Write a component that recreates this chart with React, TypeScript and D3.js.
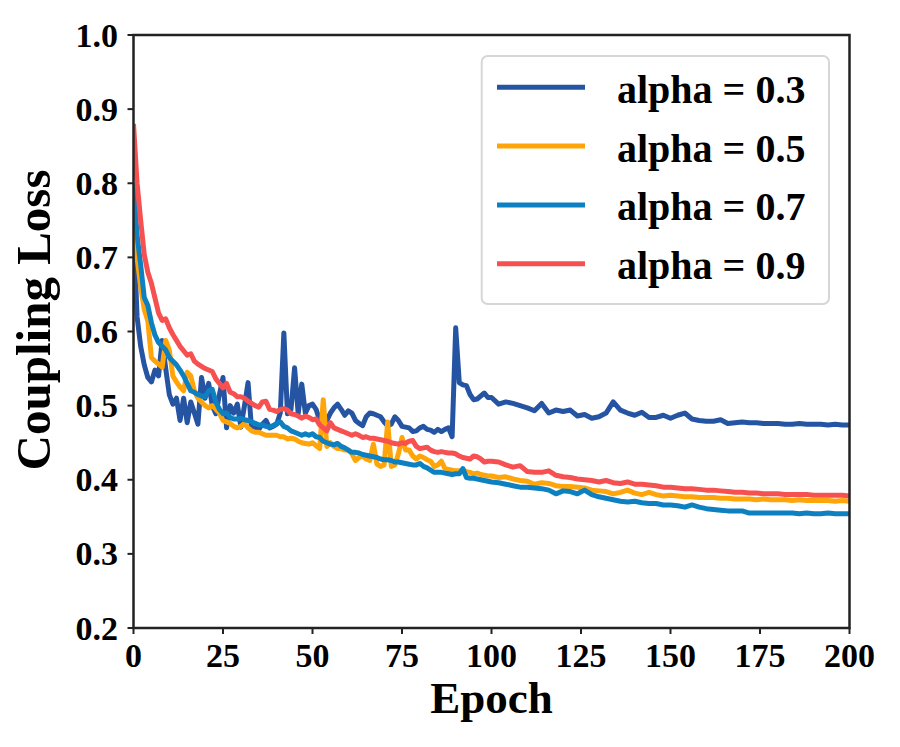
import React from 'react';
import * as d3 from 'd3';

// epochs: every epoch up to 99, then every second epoch
const epochs: number[] = d3.range(0, 100).concat(d3.range(100, 201, 2));

const alpha03: number[] = [
  0.74, 0.62, 0.58, 0.555, 0.538, 0.532, 0.548, 0.54, 0.588, 0.55,
  0.515, 0.502, 0.51, 0.48, 0.51, 0.477, 0.505, 0.49, 0.475, 0.538,
  0.51, 0.53, 0.5, 0.489, 0.515, 0.538, 0.47, 0.5, 0.49, 0.502,
  0.471, 0.5, 0.531, 0.467, 0.47, 0.468, 0.475, 0.48, 0.47, 0.472,
  0.475, 0.49, 0.598, 0.489, 0.495, 0.551, 0.489, 0.529, 0.49, 0.5,
  0.502, 0.495, 0.48, 0.478, 0.48, 0.49, 0.497, 0.502, 0.495, 0.487,
  0.493, 0.49, 0.48, 0.476, 0.473, 0.485, 0.49, 0.489, 0.487, 0.485,
  0.478, 0.473, 0.475, 0.485, 0.48, 0.472, 0.471, 0.47, 0.465, 0.466,
  0.47, 0.472, 0.468, 0.467, 0.464, 0.468, 0.465, 0.468, 0.47, 0.458,
  0.605, 0.531, 0.528, 0.527, 0.515, 0.508, 0.509, 0.513, 0.517, 0.511,
  0.511, 0.502, 0.505, 0.503, 0.5, 0.497, 0.493, 0.503, 0.49, 0.494,
  0.492, 0.494, 0.486, 0.488, 0.483, 0.485, 0.49, 0.505, 0.494, 0.49,
  0.487, 0.491, 0.484, 0.484, 0.487, 0.483, 0.487, 0.49, 0.482, 0.48,
  0.479, 0.479, 0.481, 0.476, 0.477, 0.478, 0.477, 0.477, 0.476, 0.476,
  0.476, 0.475, 0.475, 0.476, 0.475, 0.475, 0.475, 0.474, 0.475, 0.474,
  0.474,
];

const alpha05: number[] = [
  0.77, 0.7, 0.66, 0.63, 0.614, 0.565, 0.56, 0.556, 0.552, 0.588,
  0.575, 0.54, 0.532, 0.525, 0.52, 0.545, 0.54, 0.52, 0.51, 0.505,
  0.5, 0.497, 0.5, 0.495, 0.49, 0.48, 0.478, 0.476, 0.472, 0.47,
  0.472, 0.476, 0.47, 0.466, 0.464, 0.464, 0.462, 0.46, 0.46, 0.46,
  0.46, 0.458, 0.458, 0.455, 0.456, 0.455, 0.452, 0.45, 0.449, 0.448,
  0.45, 0.446, 0.442, 0.508, 0.445, 0.45, 0.445, 0.442, 0.442, 0.44,
  0.44, 0.435, 0.426, 0.43, 0.432, 0.428, 0.426, 0.448, 0.421, 0.418,
  0.42, 0.478, 0.418, 0.42, 0.435, 0.457, 0.44, 0.44, 0.432, 0.428,
  0.432, 0.43, 0.427, 0.425, 0.418, 0.42, 0.425, 0.415, 0.414, 0.413,
  0.412, 0.412, 0.413, 0.411, 0.41, 0.408, 0.409, 0.407, 0.406, 0.405,
  0.405, 0.403, 0.404, 0.401, 0.399, 0.398, 0.394, 0.396, 0.395, 0.392,
  0.391, 0.391, 0.39, 0.389, 0.386, 0.385, 0.384, 0.381, 0.383, 0.386,
  0.382, 0.38, 0.383, 0.38, 0.378, 0.379, 0.378, 0.377, 0.377, 0.376,
  0.376, 0.376, 0.375, 0.375, 0.374, 0.374, 0.374, 0.373, 0.374, 0.373,
  0.373, 0.373, 0.372, 0.373, 0.372, 0.372, 0.372, 0.372, 0.371, 0.372,
  0.371,
];

const alpha07: number[] = [
  0.8, 0.73, 0.69, 0.646, 0.635, 0.612, 0.595, 0.585, 0.58, 0.575,
  0.565, 0.56, 0.555, 0.548, 0.54, 0.53, 0.52, 0.518, 0.515, 0.513,
  0.512, 0.52, 0.522, 0.505, 0.495, 0.489, 0.49, 0.484, 0.482, 0.482,
  0.483, 0.481, 0.48, 0.478, 0.476, 0.474, 0.474, 0.472, 0.471, 0.473,
  0.476, 0.478, 0.472, 0.47, 0.466, 0.464, 0.462, 0.46, 0.462, 0.46,
  0.462, 0.458, 0.457, 0.452, 0.45, 0.448, 0.447, 0.449, 0.445, 0.443,
  0.44, 0.437, 0.437, 0.436, 0.434, 0.433, 0.432, 0.431, 0.43, 0.428,
  0.427, 0.427, 0.426, 0.424, 0.424, 0.423, 0.422, 0.421, 0.42, 0.42,
  0.422, 0.418, 0.416, 0.413, 0.41, 0.41, 0.41, 0.409, 0.408, 0.407,
  0.408, 0.408, 0.415, 0.403, 0.402, 0.402, 0.401, 0.4, 0.399, 0.398,
  0.397, 0.396, 0.394, 0.392, 0.39, 0.39, 0.389, 0.388, 0.386, 0.381,
  0.385, 0.384, 0.381, 0.386, 0.38, 0.377, 0.375, 0.373, 0.371, 0.37,
  0.371, 0.369, 0.368, 0.368, 0.366, 0.366, 0.365, 0.363, 0.366, 0.363,
  0.361, 0.36, 0.359, 0.358, 0.358, 0.358, 0.355, 0.355, 0.355, 0.355,
  0.355, 0.355, 0.355, 0.354, 0.355, 0.354, 0.354, 0.355, 0.354, 0.354,
  0.354,
];

const alpha09: number[] = [
  0.88, 0.8, 0.75, 0.704, 0.68, 0.665, 0.645, 0.625, 0.615, 0.617,
  0.605, 0.596, 0.588, 0.58, 0.574, 0.568, 0.57, 0.56, 0.556, 0.553,
  0.55, 0.548, 0.546, 0.536, 0.53, 0.524, 0.53, 0.518, 0.516, 0.512,
  0.512, 0.51, 0.506, 0.503, 0.5, 0.498, 0.505, 0.506, 0.495, 0.494,
  0.492, 0.495, 0.496, 0.494, 0.489, 0.488, 0.486, 0.483, 0.486, 0.484,
  0.481, 0.482, 0.474, 0.47, 0.466, 0.477, 0.47, 0.468, 0.466, 0.464,
  0.462, 0.46, 0.462, 0.46, 0.457, 0.458, 0.456, 0.456, 0.455, 0.454,
  0.453, 0.452, 0.45, 0.449, 0.448, 0.45, 0.449, 0.452, 0.453, 0.445,
  0.442, 0.443, 0.444, 0.44, 0.438, 0.437, 0.438, 0.437, 0.436, 0.436,
  0.435, 0.432, 0.43, 0.429, 0.428, 0.432, 0.431, 0.428, 0.424, 0.425,
  0.425, 0.424, 0.42, 0.417, 0.419, 0.411, 0.41, 0.41, 0.412, 0.406,
  0.404, 0.403, 0.401, 0.4, 0.399, 0.397, 0.399, 0.396, 0.395, 0.397,
  0.394, 0.394, 0.393, 0.392, 0.39, 0.39, 0.389, 0.388, 0.388, 0.387,
  0.386, 0.386, 0.385, 0.384, 0.383, 0.383, 0.382, 0.382, 0.381, 0.381,
  0.381, 0.38, 0.38, 0.38, 0.38, 0.379, 0.379, 0.379, 0.379, 0.379,
  0.378,
];

const seriesLabels = ['alpha = 0.3', 'alpha = 0.5', 'alpha = 0.7', 'alpha = 0.9'];
const seriesValues = [alpha03, alpha05, alpha07, alpha09];
const seriesColors = ['#2554a3', '#ffa50a', '#0d80c2', '#f75050'];

const xTicks = [0, 25, 50, 75, 100, 125, 150, 175, 200];
const yTicks = [0.2, 0.3, 0.4, 0.5, 0.6, 0.7, 0.8, 0.9, 1.0];

const FONT = '"Liberation Serif", "Times New Roman", serif';

const App: React.FC = () => {
  const width = 900;
  const height = 747;
  const left = 133.5;
  const right = 849.5;
  const top = 35;
  const bottom = 628;

  const x = d3.scaleLinear().domain([0, 200]).range([left, right]);
  const y = d3.scaleLinear().domain([0.2, 1.0]).range([bottom, top]);

  const line = d3.line<number>()
    .x((_, i) => x(epochs[i]))
    .y(d => y(d));

  const legendX = 481.7;
  const legendY = 56;
  const rowGap = 58.8;

  return (
    <div style={{ position: 'absolute', left: 0, top: 0 }}>
      <svg width={width} height={height} style={{ display: 'block', background: '#fff' }}>
        <defs>
          <clipPath id="plot-clip">
            <rect x={left} y={top} width={right - left} height={bottom - top} />
          </clipPath>
        </defs>

        {/* series lines */}
        <g clipPath="url(#plot-clip)">
          {seriesValues.map((vals, i) => (
            <path
              key={seriesLabels[i]}
              d={line(vals) || ''}
              fill="none"
              stroke={seriesColors[i]}
              strokeWidth={5}
              strokeLinejoin="round"
              strokeLinecap="butt"
            />
          ))}
        </g>

        {/* frame */}
        <rect x={left} y={top} width={right - left} height={bottom - top}
          fill="none" stroke="#222" strokeWidth={2.5} />

        {/* x axis */}
        {xTicks.map(t => (
          <g key={`x${t}`}>
            <line x1={x(t)} x2={x(t)} y1={bottom} y2={bottom + 6} stroke="#222" strokeWidth={2} />
            <text x={x(t)} y={667} textAnchor="middle" fontFamily={FONT}
              fontWeight="bold" fontSize={34}>{t}</text>
          </g>
        ))}

        {/* y axis */}
        {yTicks.map(t => (
          <g key={`y${t}`}>
            <line x1={left - 6} x2={left} y1={y(t)} y2={y(t)} stroke="#222" strokeWidth={2} />
            <text x={118} y={y(t) + 11.5} textAnchor="end" fontFamily={FONT}
              fontWeight="bold" fontSize={34}>{t.toFixed(1)}</text>
          </g>
        ))}

        <text x={(left + right) / 2} y={713} textAnchor="middle" fontFamily={FONT}
          fontWeight="bold" fontSize={45}>Epoch</text>
        <text transform={`translate(50, 320) rotate(-90)`} textAnchor="middle"
          fontFamily={FONT} fontWeight="bold" fontSize={49}>Coupling Loss</text>

        {/* legend */}
        <rect x={legendX} y={legendY} width={829 - legendX} height={304 - legendY} rx={6}
          fill="#fff" fillOpacity={0.8} stroke="#d6d6d6" strokeWidth={2} />
        {seriesLabels.map((label, i) => {
          const ry = 87.3 + i * rowGap;
          return (
            <g key={`lg${label}`}>
              <line x1={497} x2={585} y1={ry} y2={ry} stroke={seriesColors[i]} strokeWidth={5} />
              <text x={617} y={ry + 15.5} fontFamily={FONT} fontWeight="bold" fontSize={40}>{label}</text>
            </g>
          );
        })}
      </svg>
    </div>
  );
};

export default App;
